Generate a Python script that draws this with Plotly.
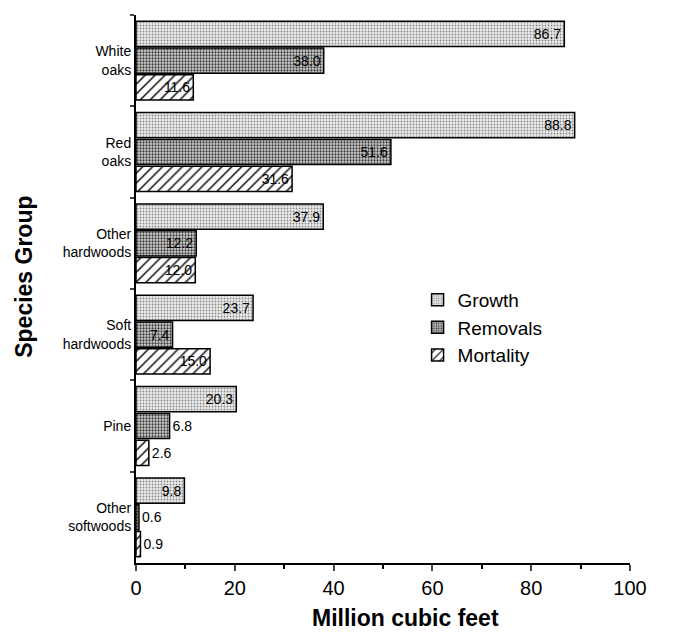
import plotly.graph_objects as go

categories = ["White<br>oaks", "Red<br>oaks", "Other<br>hardwoods", "Soft<br>hardwoods", "Pine", "Other<br>softwoods"]
growth = [86.7, 88.8, 37.9, 23.7, 20.3, 9.8]
removals = [38.0, 51.6, 12.2, 7.4, 6.8, 0.6]
mortality = [11.6, 31.6, 12.0, 15.0, 2.6, 0.9]
x_ticks = [0, 20, 40, 60, 80, 100]

FONT = "Liberation Sans, Arial, Helvetica, sans-serif"

series = [
    ("Growth", growth, dict(shape=".", fgcolor="#8a8a8a", bgcolor="#ececec", size=3, solidity=0.3, fillmode="replace")),
    ("Removals", removals, dict(shape=".", fgcolor="#3c3c3c", bgcolor="#d4d4d4", size=3, solidity=0.45, fillmode="replace")),
    ("Mortality", mortality, dict(shape="/", fgcolor="black", bgcolor="white", size=7, solidity=0.2, fillmode="replace")),
]

fig = go.Figure()
for name, vals, pat in series:
    pos = ["inside" if v >= 7 else "outside" for v in vals]
    fig.add_trace(go.Bar(
        name=name, y=categories, x=vals, orientation="h",
        text=[f"{v:.1f}" for v in vals], textposition=pos,
        insidetextanchor="end", constraintext="none",
        textfont=dict(family=FONT, size=14, color="black"),
        marker=dict(color="white", line=dict(color="black", width=1.5), pattern=pat),
        cliponaxis=False,
    ))

fig.update_layout(
    width=673, height=636,
    margin=dict(l=128, r=51, t=7, b=81),
    paper_bgcolor="white", plot_bgcolor="white",
    barmode="group", bargap=0.12, bargroupgap=0.06,
    font=dict(family=FONT, color="black"),
    legend=dict(x=0.57, y=0.515, xanchor="left", yanchor="top",
                font=dict(size=19), bgcolor="rgba(0,0,0,0)",
                itemwidth=30, tracegroupgap=6),
    showlegend=True,
    annotations=[
        dict(text="<b>Million cubic feet</b>", xref="paper", yref="paper",
             x=0.545, y=-0.10, xanchor="center", yanchor="middle",
             showarrow=False, font=dict(size=23)),
        dict(text="<b>Species Group</b>", xref="paper", yref="paper",
             x=-0.227, y=0.522, xanchor="center", yanchor="middle", textangle=-90,
             showarrow=False, font=dict(size=23)),
    ],
)
fig.update_xaxes(
    range=[0, 100], tickvals=x_ticks, ticks="outside", ticklen=6, tickwidth=2,
    showline=True, linecolor="black", linewidth=2, showgrid=False, zeroline=False,
    tickfont=dict(size=20),
    minor=dict(dtick=10, ticks="outside", ticklen=4, tickwidth=2, tickcolor="black"),
    automargin=False,
)
fig.update_yaxes(
    autorange="reversed", showline=True, linecolor="black", linewidth=2,
    ticks="outside", tickson="boundaries", ticklen=4, tickwidth=2,
    showgrid=False, tickfont=dict(size=14),
    automargin=False,
)

fig.write_html("out.html")
